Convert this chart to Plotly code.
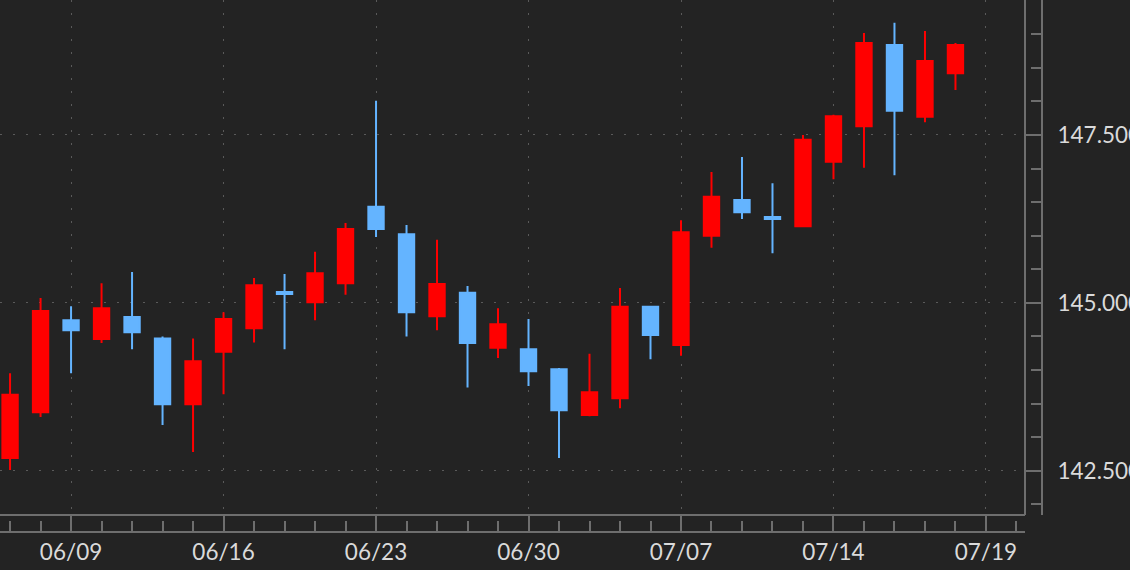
import numpy as np
import plotly.graph_objects as go

# ---- data (USD/JPY daily candles) ----
dates = [
    "2025-06-05", "2025-06-06",
    "2025-06-09", "2025-06-10", "2025-06-11", "2025-06-12", "2025-06-13",
    "2025-06-16", "2025-06-17", "2025-06-18", "2025-06-19", "2025-06-20",
    "2025-06-23", "2025-06-24", "2025-06-25", "2025-06-26", "2025-06-27",
    "2025-06-30", "2025-07-01", "2025-07-02", "2025-07-03", "2025-07-04",
    "2025-07-07", "2025-07-08", "2025-07-09", "2025-07-10", "2025-07-11",
    "2025-07-14", "2025-07-15", "2025-07-16", "2025-07-17", "2025-07-18",
]
opens = [142.69, 143.37, 144.74, 144.46, 144.79, 144.47, 143.49,
         144.27, 144.62, 145.16, 145.01, 145.29,
         146.43, 146.02, 144.80, 145.15, 144.33,
         144.31, 144.01, 143.33, 143.58, 144.94,
         144.37, 146.00, 146.53, 146.28, 146.14,
         147.10, 147.63, 148.84, 147.77, 148.42]
highs = [143.95, 145.07, 144.95, 145.29, 145.46, 144.50, 144.47,
         144.86, 145.37, 145.43, 145.76, 146.19,
         148.01, 146.16, 145.94, 145.25, 144.92,
         144.76, 144.03, 144.24, 145.22, 144.95,
         146.23, 146.95, 147.17, 146.78, 147.50,
         147.80, 149.02, 149.17, 149.05, 148.87]
lows = [142.51, 143.30, 143.95, 144.40, 144.31, 143.18, 142.78,
        143.64, 144.41, 144.31, 144.74, 145.12,
        145.98, 144.50, 144.59, 143.74, 144.18,
        143.76, 142.69, 143.31, 143.43, 144.16,
        144.21, 145.82, 146.25, 145.74, 146.13,
        146.84, 147.01, 146.90, 147.69, 148.17]
closes = [143.63, 144.88, 144.59, 144.92, 144.56, 143.49, 144.13,
          144.76, 145.26, 145.13, 145.44, 146.10,
          146.10, 144.86, 145.28, 144.40, 144.68,
          143.98, 143.40, 143.67, 144.94, 144.52,
          146.05, 146.58, 146.35, 146.25, 147.43,
          147.78, 148.87, 147.86, 148.60, 148.84]

tick_dates = ["2025-06-09", "2025-06-16", "2025-06-23", "2025-06-30",
              "2025-07-07", "2025-07-14", "2025-07-19"]
tick_text = ["06/09", "06/16", "06/23", "06/30", "07/07", "07/14", "07/19"]
y_tick_vals = [142.5, 145.0, 147.5]
y_tick_text = ["142.500", "145.000", "147.500"]

# trading-day index positions (weekends removed)
x = [int(np.busday_count(dates[0], d)) for d in dates]
tick_pos = [int(np.busday_count(dates[0], d)) for d in tick_dates]

UP = "#ff0000"
DOWN = "#64b4ff"
BG = "#232323"
AX = "#6e6e6e"
GRID = "#5a5a5a"

fig = go.Figure(go.Candlestick(
    x=x, open=opens, high=highs, low=lows, close=closes,
    increasing=dict(line=dict(color=UP, width=2), fillcolor=UP),
    decreasing=dict(line=dict(color=DOWN, width=2), fillcolor=DOWN),
    whiskerwidth=0, hoverinfo="skip",
))

W_PLOT = 1042.0
H_PLOT = 532.0

fig.update_layout(
    width=1130, height=570, autosize=False,
    margin=dict(l=0, r=88, t=0, b=38, pad=0, autoexpand=False),
    paper_bgcolor=BG, plot_bgcolor=BG,
    showlegend=False, boxgap=0.28,
    font=dict(family="Lato", size=22.5, color="#dadada"),
    xaxis=dict(
        domain=[0, 1025 / W_PLOT], anchor="free", position=0,
        range=[-0.33, 33.28], automargin=False,
        tickmode="array", tickvals=tick_pos, ticktext=tick_text,
        ticks="inside", ticklen=17, tickwidth=2, tickcolor=AX,
        showline=True, linecolor=AX, linewidth=2,
        showgrid=True, gridcolor=GRID, gridwidth=1, griddash="2px,11px",
        minor=dict(dtick=1, tick0=0, ticks="inside", ticklen=10,
                   tickwidth=2, tickcolor=AX, showgrid=False),
        rangeslider=dict(visible=False), zeroline=False,
        ticklabelstandoff=0,
    ),
    yaxis=dict(
        domain=[17 / H_PLOT, 1], anchor="free", position=1, side="right",
        range=[141.84, 149.51], automargin=False,
        tickmode="array", tickvals=y_tick_vals, ticktext=y_tick_text,
        ticks="inside", ticklen=17, tickwidth=2, tickcolor=AX,
        showline=True, linecolor=AX, linewidth=2,
        showgrid=True, gridcolor=GRID, gridwidth=1, griddash="2px,11px",
        minor=dict(dtick=0.5, tick0=0, ticks="inside", ticklen=10,
                   tickwidth=2, tickcolor=AX, showgrid=False),
        zeroline=False, ticklabelstandoff=10,
    ),
    shapes=[
        dict(type="line", xref="x domain", yref="y domain",
             x0=0, x1=1, y0=0, y1=0, line=dict(color=AX, width=2)),
        dict(type="line", xref="x domain", yref="y domain",
             x0=1, x1=1, y0=0, y1=1, line=dict(color=AX, width=2)),
    ],
)

fig.write_html(
    "out.html",
    config={"displayModeBar": False, "staticPlot": True},
    post_script="document.body.style.margin='0';document.body.style.background='#232323';",
)
